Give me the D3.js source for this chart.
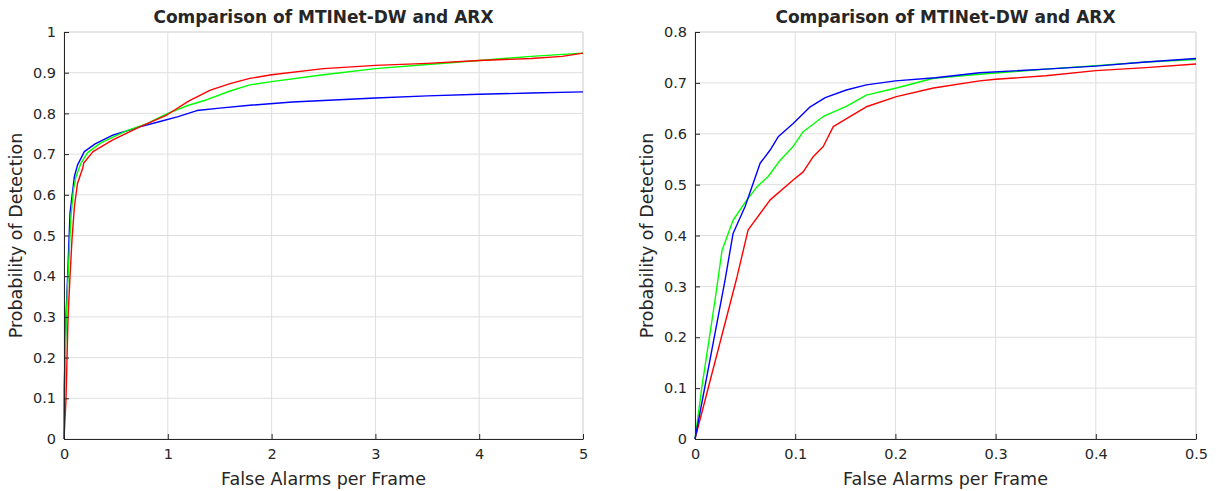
<!DOCTYPE html>
<html><head><meta charset="utf-8">
<script src="https://cdn.jsdelivr.net/npm/d3@7"></script>
<style>
body{margin:0;background:#fff;}
text{font-family:"DejaVu Sans",sans-serif;fill:#262626;}
</style></head>
<body><svg id="c" width="1219" height="491"></svg>
<script>
const titleText = "Comparison of MTINet-DW and ARX";
const xLabel = "False Alarms per Frame";
const yLabel = "Probability of Detection";
const leftXTicks = [0,1,2,3,4,5];
const leftYTicks = [0,0.1,0.2,0.3,0.4,0.5,0.6,0.7,0.8,0.9,1];
const rightXTicks = [0,0.1,0.2,0.3,0.4,0.5];
const rightYTicks = [0,0.1,0.2,0.3,0.4,0.5,0.6,0.7,0.8];

// Left panel series [x, Pd]
const leftBlue = [[0,0],[0.003,0.13],[0.019,0.30],[0.035,0.40],[0.058,0.555],[0.1,0.645],[0.13,0.673],[0.196,0.706],[0.3,0.725],[0.475,0.747],[0.73,0.767],[0.925,0.78],[1.1,0.792],[1.28,0.807],[1.5,0.813],[1.79,0.82],[2.2,0.828],[2.6,0.833],[3,0.838],[3.5,0.843],[4,0.847],[4.5,0.85],[5,0.853]];
const leftGreen = [[0,0],[0.005,0.12],[0.022,0.30],[0.039,0.40],[0.067,0.546],[0.09,0.61],[0.116,0.645],[0.164,0.678],[0.225,0.703],[0.35,0.727],[0.6,0.757],[0.8,0.775],[1.0,0.80],[1.2,0.82],[1.37,0.833],[1.6,0.855],[1.79,0.87],[2,0.878],[2.5,0.895],[3,0.91],[3.5,0.92],[4,0.93],[4.5,0.94],[5,0.948]];
const leftRed = [[0,0],[0.019,0.096],[0.039,0.30],[0.058,0.40],[0.077,0.49],[0.1,0.57],[0.13,0.628],[0.18,0.665],[0.19,0.678],[0.28,0.706],[0.47,0.735],[0.73,0.767],[0.99,0.796],[1.2,0.83],[1.41,0.857],[1.6,0.873],[1.79,0.886],[2,0.895],[2.5,0.91],[3,0.918],[3.5,0.923],[4,0.93],[4.5,0.935],[4.8,0.94],[5,0.948]];

// Right panel series [x, Pd]
const rightBlue = [[0,0],[0.030,0.3125],[0.038,0.404],[0.050,0.457],[0.065,0.542],[0.075,0.568],[0.083,0.594],[0.098,0.62],[0.115,0.653],[0.130,0.671],[0.151,0.686],[0.171,0.696],[0.200,0.704],[0.24,0.710],[0.284,0.72],[0.35,0.727],[0.4,0.733],[0.45,0.741],[0.5,0.748]];
const rightGreen = [[0,0],[0.0067,0.10],[0.02,0.273],[0.027,0.371],[0.038,0.43],[0.050,0.465],[0.062,0.496],[0.073,0.516],[0.085,0.548],[0.098,0.575],[0.108,0.604],[0.128,0.634],[0.151,0.654],[0.171,0.676],[0.201,0.69],[0.238,0.709],[0.284,0.717],[0.35,0.727],[0.4,0.734],[0.45,0.741],[0.5,0.746]];
const rightRed = [[0,0],[0.042,0.319],[0.053,0.411],[0.075,0.47],[0.098,0.509],[0.108,0.525],[0.118,0.555],[0.128,0.575],[0.138,0.614],[0.155,0.634],[0.171,0.653],[0.201,0.673],[0.238,0.69],[0.284,0.704],[0.3,0.707],[0.35,0.714],[0.4,0.724],[0.45,0.73],[0.5,0.737]];

const svg = d3.select("#c");

function panel(x0, x1, xDomain, yDomain, xTicks, yTicks, series, fmtX, fmtY) {
  const y0 = 439, y1 = 32;
  const xs = d3.scaleLinear().domain(xDomain).range([x0, x1]);
  const ys = d3.scaleLinear().domain(yDomain).range([y0, y1]);
  const g = svg.append("g");
  // grid
  g.append("g").selectAll("line").data(xTicks).join("line")
    .attr("x1", d => xs(d)).attr("x2", d => xs(d)).attr("y1", y0).attr("y2", y1)
    .attr("stroke", "#dfdfdf").attr("stroke-width", 1);
  g.append("g").selectAll("line").data(yTicks).join("line")
    .attr("y1", d => ys(d)).attr("y2", d => ys(d)).attr("x1", x0).attr("x2", x1)
    .attr("stroke", "#dfdfdf").attr("stroke-width", 1);
  // box (top/right)
  g.append("path").attr("d", `M${x0},${y1}H${x1}V${y0}`).attr("fill", "none").attr("stroke", "#dcdcdc");
  // lines
  const line = d3.line().x(d => xs(d[0])).y(d => ys(d[1]));
  series.forEach(s => {
    g.append("path").datum(s.data).attr("d", line).attr("fill", "none")
      .attr("stroke", s.color).attr("stroke-width", 1.4).attr("stroke-linejoin", "round");
  });
  // axes
  const ax = g.append("g").attr("transform", `translate(0,${y0})`)
    .call(d3.axisBottom(xs).tickValues(xTicks).tickFormat(fmtX).tickSizeInner(-5).tickSizeOuter(0).tickPadding(10));
  const ay = g.append("g").attr("transform", `translate(${x0},0)`)
    .call(d3.axisLeft(ys).tickValues(yTicks).tickFormat(fmtY).tickSizeInner(-5).tickSizeOuter(0).tickPadding(8));
  [ax, ay].forEach(a => {
    a.select(".domain").attr("stroke", "#262626").attr("stroke-width", 1);
    a.selectAll(".tick line").attr("stroke", "#262626");
    a.selectAll(".tick text").attr("font-size", 14.5).attr("font-family", "DejaVu Sans").attr("fill", "#262626");
  });
  // title
  g.append("text").attr("x", (x0 + x1) / 2).attr("y", 23).attr("text-anchor", "middle")
    .attr("font-size", 17).attr("font-weight", "bold").attr("fill", "#000").text(titleText);
  g.append("text").attr("x", (x0 + x1) / 2).attr("y", 485).attr("text-anchor", "middle")
    .attr("font-size", 17.5).text(xLabel);
  g.append("text").attr("transform", `translate(${x0 - 42},${(y0 + y1) / 2}) rotate(-90)`)
    .attr("text-anchor", "middle").attr("font-size", 17.5).text(yLabel);
}

const fmt = d => d === 0 ? "0" : d3.format("~g")(d);
panel(64, 583, [0, 5], [0, 1], leftXTicks, leftYTicks,
  [{data: leftBlue, color: "#0000ff"}, {data: leftGreen, color: "#00ff00"}, {data: leftRed, color: "#ff0000"}], fmt, fmt);
panel(695, 1196, [0, 0.5], [0, 0.8], rightXTicks, rightYTicks,
  [{data: rightRed, color: "#ff0000"}, {data: rightGreen, color: "#00ff00"}, {data: rightBlue, color: "#0000ff"}], fmt, fmt);
</script></body></html>
